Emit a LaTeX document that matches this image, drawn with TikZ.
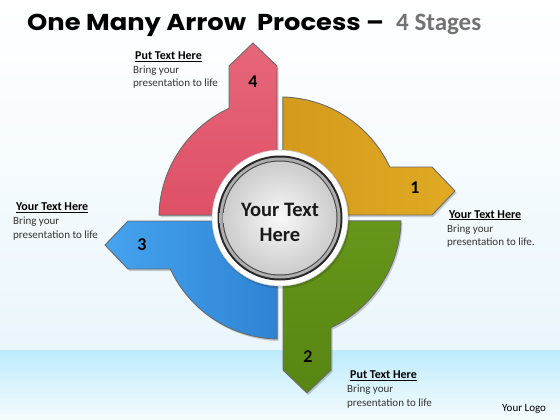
\documentclass[tikz,border=0pt]{standalone}
\usepackage{fontspec}
\setmainfont{Carlito}
\newfontfamily\titlefont{Poppins}[FakeStretch=1.12]
\definecolor{bandtop}{HTML}{BDEBFB}
\definecolor{bandbot}{HTML}{F6FCFE}
\definecolor{bgmid}{HTML}{EAF6FC}
\definecolor{redA}{HTML}{E76679}
\definecolor{redB}{HTML}{DE5066}
\definecolor{orA}{HTML}{D49A1C}
\definecolor{orB}{HTML}{E0AA24}
\definecolor{grA}{HTML}{66961A}
\definecolor{grB}{HTML}{578612}
\definecolor{blA}{HTML}{46A3EE}
\definecolor{blB}{HTML}{2E84D4}
\definecolor{edge}{HTML}{6A6A6A}
\definecolor{bodytxt}{HTML}{333333}
\begin{document}
\begin{tikzpicture}[x=1pt,y=1pt,
  quad/.style={draw=edge, line width=0.9pt, line join=round},
  qshadow/.style={fill=black, opacity=0.18},
  num/.style={font=\fontsize{18}{20}\selectfont\bfseries, text=black, inner sep=0pt},
  hd/.style={anchor=base west, inner sep=0pt, font=\fontsize{12}{14}\selectfont\bfseries, text=black},
  lbl/.style={anchor=base west, inner sep=0pt, font=\fontsize{11}{13}\selectfont, text=bodytxt}]
\useasboundingbox (0,0) rectangle (560,-420);
% background
\shade[top color=white, bottom color=bgmid] (0,0) rectangle (560,-350);
\shade[top color=bandtop, bottom color=bandbot] (0,-350) rectangle (560,-420);
% title
\node[anchor=base west, inner sep=0pt, font=\titlefont\fontsize{23}{26}\selectfont\bfseries] (title) at (27,-30.5) {One Many Arrow\ \ Process –};
\node[anchor=base west, inner sep=0pt, font=\fontsize{25}{27}\selectfont\bfseries, text=gray!90!black] (stages) at (396,-30.5) {4 Stages};
% quadrants
\begin{scope}[shift={(280,-218)}]
  % shadows
  \fill[qshadow, shift={(1.5,-2)}] (-3,3) -- (-3,152) -- (-27,175) -- (-51,152) -- (-51,109.7) arc[start angle=114.9, end angle=178.6, radius=121] -- cycle;
  \fill[qshadow, shift={(1.5,-2)}] (3,3) -- (152,3) -- (175,27) -- (152,51) -- (109.7,51) arc[start angle=24.9, end angle=88.6, radius=121] -- cycle;
  \fill[qshadow, shift={(1.5,-2)}] (3,-3) -- (3,-152) -- (27,-175) -- (51,-152) -- (51,-109.7) arc[start angle=-65.1, end angle=-1.4, radius=121] -- cycle;
  \fill[qshadow, shift={(1.5,-2)}] (-3,-3) -- (-152,-3) -- (-175,-27) -- (-152,-51) -- (-109.7,-51) arc[start angle=204.9, end angle=268.6, radius=121] -- cycle;
  % red (4)
  \shade[quad, top color=redA, bottom color=redB] (-3,3) -- (-3,152) -- (-27,175) -- (-51,152) -- (-51,109.7) arc[start angle=114.9, end angle=178.6, radius=121] -- cycle;
  % orange (1)
  \shade[quad, left color=orA, right color=orB] (3,3) -- (152,3) -- (175,27) -- (152,51) -- (109.7,51) arc[start angle=24.9, end angle=88.6, radius=121] -- cycle;
  % green (2)
  \shade[quad, top color=grA, bottom color=grB] (3,-3) -- (3,-152) -- (27,-175) -- (51,-152) -- (51,-109.7) arc[start angle=-65.1, end angle=-1.4, radius=121] -- cycle;
  % blue (3)
  \shade[quad, left color=blA, right color=blB] (-3,-3) -- (-152,-3) -- (-175,-27) -- (-152,-51) -- (-109.7,-51) arc[start angle=204.9, end angle=268.6, radius=121] -- cycle;
  % center circle
  \fill[black, opacity=0.15] (1,-1.5) circle (69);
  \fill[white] (0,0) circle (68);
  \draw[gray!45, line width=0.6pt] (0,0) circle (68);
  \fill[gray!30!black] (0,0) circle (62.5);
  \shade[inner color=gray!25, outer color=gray!65] (0,0) circle (60.5);
  \fill[gray!50!black] (0,0) circle (57.5);
  \shade[inner color=gray!5, outer color=gray!40] (0,0) circle (56.5);
\end{scope}
\node[font=\fontsize{20.5}{25}\selectfont\bfseries, align=center, text=black!90] (ctr) at (280,-222) {Your Text\\Here};
% numbers
\node[num] (n4) at (253,-82) {4};
\node[num] (n1) at (415,-188) {1};
\node[num] (n2) at (308,-357) {2};
\node[num] (n3) at (142,-245) {3};
% text blocks
\node[hd] (t4h) at (135,-60) {\underline{Put Text Here}};
\node[lbl] (t4a) at (133,-73.5) {Bring your};
\node[lbl] (t4b) at (133,-87) {presentation to life};
\node[hd] (t3h) at (16,-210.5) {\underline{Your\ Text Here}};
\node[lbl] (t3a) at (13,-224.5) {Bring your};
\node[lbl] (t3b) at (13,-238) {presentation to life};
\node[hd] (t1h) at (449,-218) {\underline{Your\ Text Here}};
\node[lbl] (t1a) at (447,-232) {Bring your};
\node[lbl] (t1b) at (447,-245.5) {presentation to life.};
\node[hd] (t2h) at (350,-378.5) {\underline{Put\ Text Here}};
\node[lbl] (t2a) at (347,-392.5) {Bring your};
\node[lbl] (t2b) at (347,-406) {presentation to life};
\node[anchor=base west, inner sep=0pt, font=\fontsize{11}{13}\selectfont, text=black] (logo) at (502,-411) {Your Logo};
\end{tikzpicture}
\end{document}
